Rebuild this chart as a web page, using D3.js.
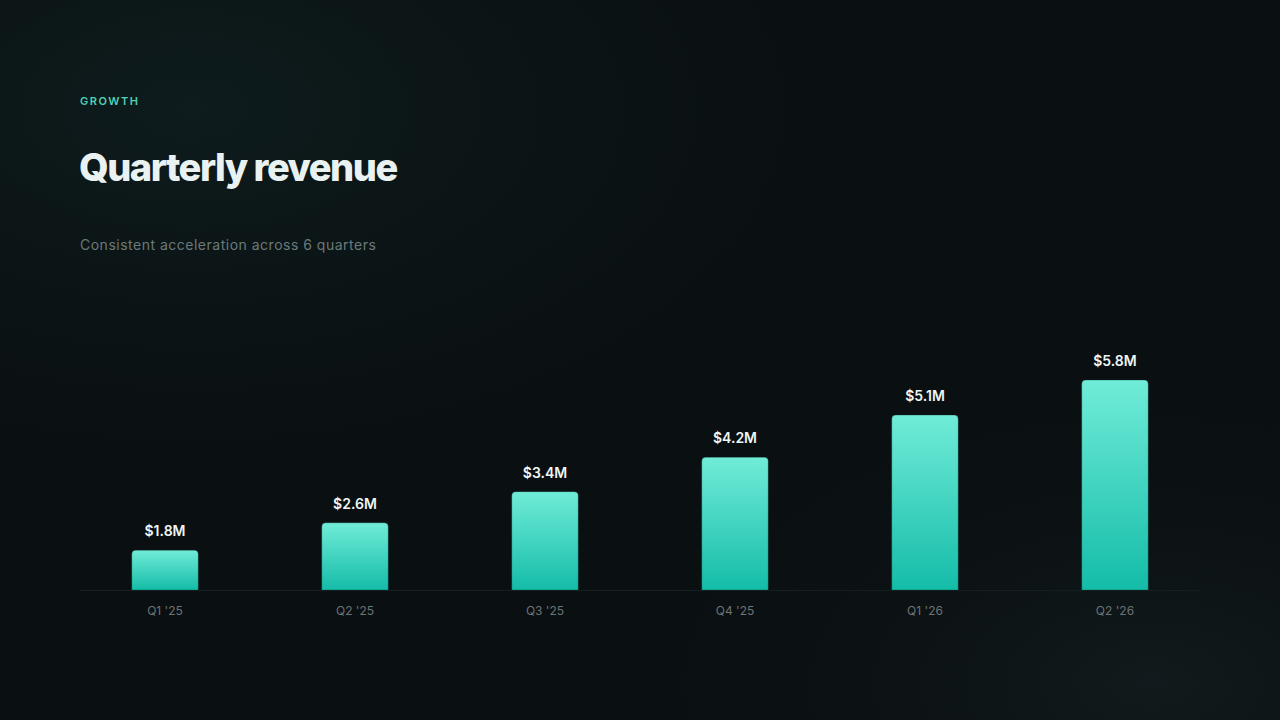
<!DOCTYPE html>
<html>
<head>
<meta charset="utf-8">
<script src="https://cdn.jsdelivr.net/npm/d3@7"></script>
<style>
  html, body { margin: 0; padding: 0; background: #0a0f11; }
  #chart { width: 1280px; height: 720px; }
</style>
</head>
<body>
<div id="chart"></div>
<script>
const quarters = ["Q1 '25", "Q2 '25", "Q3 '25", "Q4 '25", "Q1 '26", "Q2 '26"];
const revenue = [1.8, 2.6, 3.4, 4.2, 5.1, 5.8];
const valueLabels = ["$1.8M", "$2.6M", "$3.4M", "$4.2M", "$5.1M", "$5.8M"];

const width = 1280;
const height = 720;
const plot = { left: 80, right: 1200, baseline: 590 };

const svg = d3.select("#chart")
              .append("svg")
              .attr("width", width)
              .attr("height", height);

const defs = svg.append("defs");

// background glows
const bg1 = defs.append("radialGradient")
                .attr("id", "bgTopLeft")
                .attr("cx", 0.15).attr("cy", 0.15).attr("r", 0.7);
bg1.append("stop").attr("offset", "0%").attr("stop-color", "#0e1c1d");
bg1.append("stop").attr("offset", "100%").attr("stop-color", "#0a0f11").attr("stop-opacity", 0);

const bg2 = defs.append("radialGradient")
                .attr("id", "bgBottomRight")
                .attr("cx", 0.9).attr("cy", 0.95).attr("r", 0.5);
bg2.append("stop").attr("offset", "0%").attr("stop-color", "#111a1c");
bg2.append("stop").attr("offset", "100%").attr("stop-color", "#0a0f11").attr("stop-opacity", 0);

// bar gradient
const barGrad = defs.append("linearGradient")
                    .attr("id", "barGrad")
                    .attr("x1", 0).attr("y1", 0).attr("x2", 0).attr("y2", 1);
barGrad.append("stop").attr("offset", "0%").attr("stop-color", "#70ecd8");
barGrad.append("stop").attr("offset", "100%").attr("stop-color", "#14bca8");

svg.append("rect").attr("width", width).attr("height", height).attr("fill", "#0a0f11");
svg.append("rect").attr("width", width).attr("height", height).attr("fill", "url(#bgTopLeft)");
svg.append("rect").attr("width", width).attr("height", height).attr("fill", "url(#bgBottomRight)");

// Header
svg.append("text")
   .attr("x", 80).attr("y", 105)
   .attr("fill", "#4fd1b3")
   .style("font-family", "Inter, sans-serif")
   .style("font-size", "11px")
   .style("font-weight", 600)
   .style("letter-spacing", "1.5px")
   .text("GROWTH");

svg.append("text")
   .attr("x", 79).attr("y", 181)
   .attr("fill", "#e9f2f1")
   .style("font-family", "Inter, sans-serif")
   .style("font-size", "38px")
   .style("font-weight", 800)
   .style("letter-spacing", "-1.5px")
   .text("Quarterly revenue");

svg.append("text")
   .attr("x", 80).attr("y", 250)
   .attr("fill", "#6b7a7a")
   .style("font-family", "Inter, sans-serif")
   .style("font-size", "14px")
   .style("letter-spacing", "0.5px")
   .text("Consistent acceleration across 6 quarters");

// Scales
const x = d3.scaleBand()
            .domain(quarters)
            .range([plot.left, plot.right])
            .paddingInner(0.65)
            .paddingOuter(0.2725);

const y = d3.scalePow()
            .exponent(1.42)
            .domain([0, d3.max(revenue)])
            .range([plot.baseline, 380]);

// baseline
svg.append("line")
   .attr("x1", plot.left).attr("x2", plot.right)
   .attr("y1", plot.baseline + 0.5).attr("y2", plot.baseline + 0.5)
   .attr("stroke", "#151e20")
   .attr("stroke-width", 1);

// x-axis labels
const xAxis = svg.append("g")
                 .attr("transform", `translate(0, ${plot.baseline})`)
                 .call(d3.axisBottom(x).tickSize(0).tickPadding(16));
xAxis.select(".domain").remove();
xAxis.selectAll("text")
     .attr("fill", "#6b7575")
     .style("font-family", "Inter, sans-serif")
     .style("font-size", "12px");

// bars with rounded top corners
const r = 4;
function barPath(d, i) {
    const x0 = x(quarters[i]);
    const w = x.bandwidth();
    const top = y(d);
    const bottom = plot.baseline;
    return `M${x0},${bottom}V${top + r}Q${x0},${top} ${x0 + r},${top}` +
           `H${x0 + w - r}Q${x0 + w},${top} ${x0 + w},${top + r}V${bottom}Z`;
}

svg.append("g")
   .selectAll("path")
   .data(revenue)
   .enter()
   .append("path")
   .attr("d", barPath)
   .attr("fill", "url(#barGrad)")
   .attr("stroke", "rgba(10,40,38,0.5)")
   .attr("stroke-width", 0.6);

// value labels
svg.append("g")
   .selectAll("text")
   .data(revenue)
   .enter()
   .append("text")
   .attr("x", (d, i) => x(quarters[i]) + x.bandwidth() / 2)
   .attr("y", d => y(d) - 14)
   .attr("text-anchor", "middle")
   .attr("fill", "#eef5f4")
   .style("font-family", "Inter, sans-serif")
   .style("font-size", "14px")
   .style("font-weight", 600)
   .text((d, i) => valueLabels[i]);
</script>
</body>
</html>
